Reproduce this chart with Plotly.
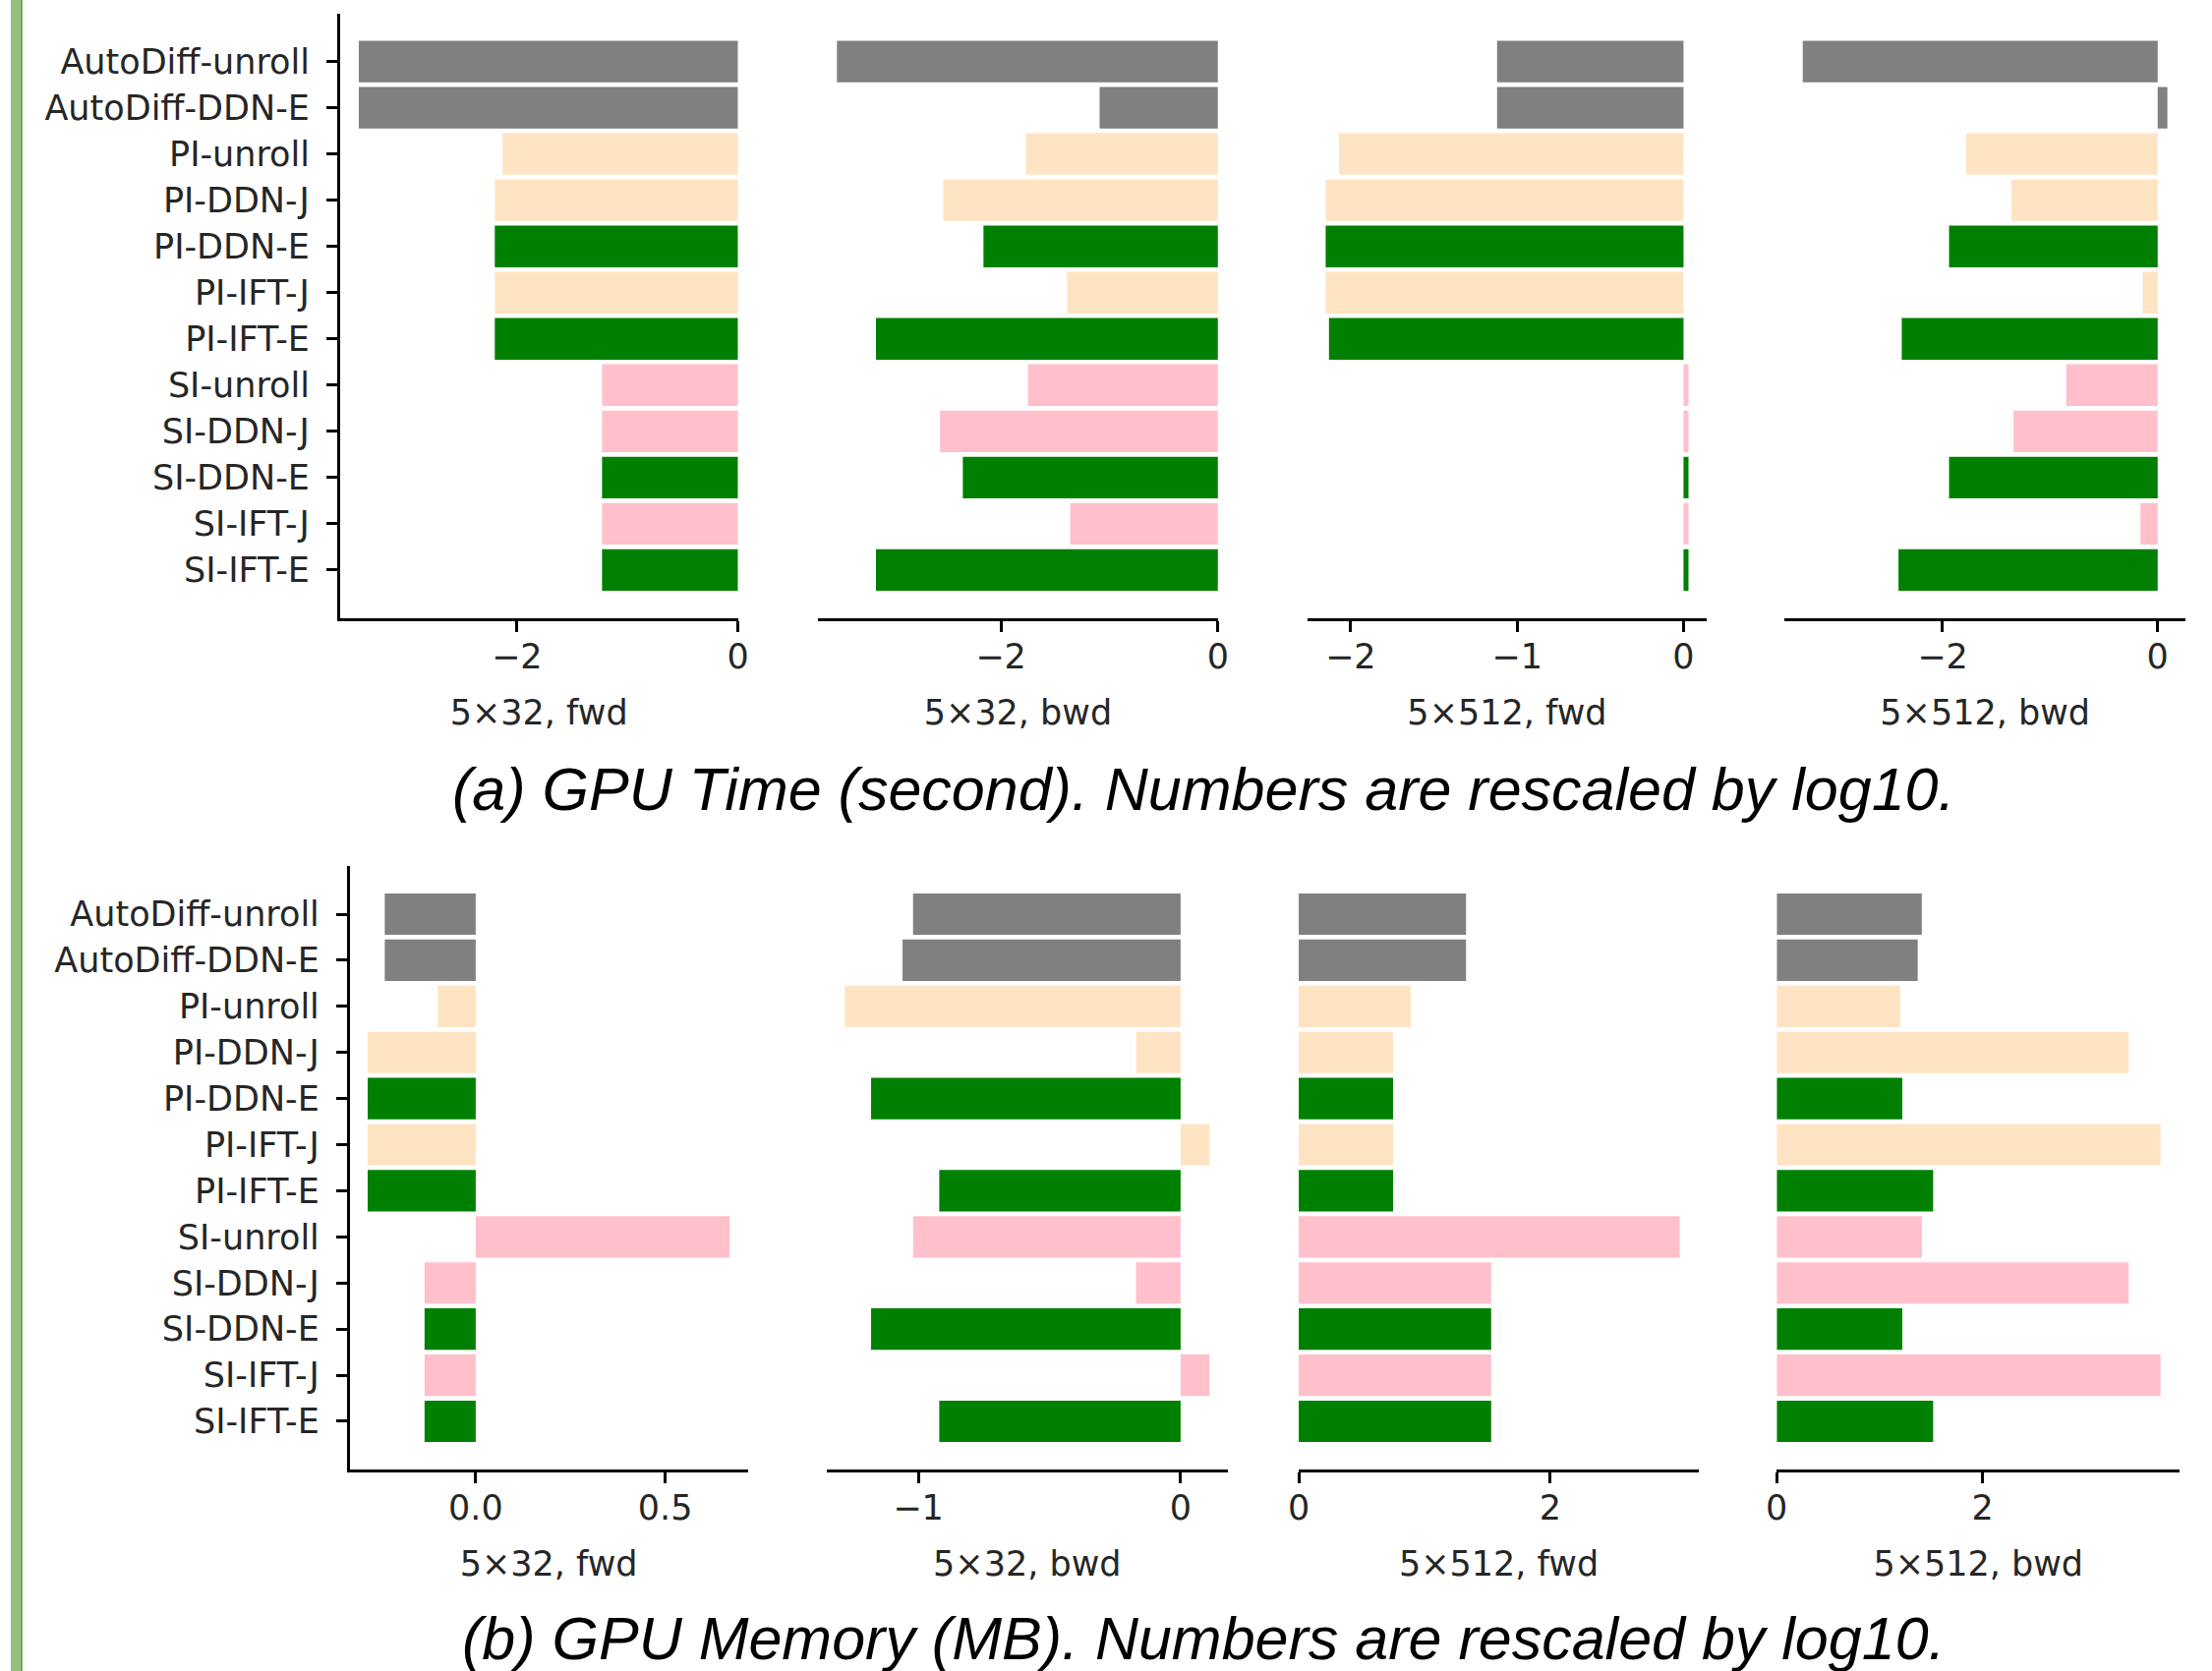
import plotly.graph_objects as go

W, H = 2250, 1700

methods = ["AutoDiff-unroll", "AutoDiff-DDN-E", "PI-unroll", "PI-DDN-J", "PI-DDN-E",
           "PI-IFT-J", "PI-IFT-E", "SI-unroll", "SI-DDN-J", "SI-DDN-E", "SI-IFT-J", "SI-IFT-E"]
groups = ["autodiff", "autodiff", "pi", "pi", "explicit", "pi", "explicit",
          "si", "si", "explicit", "si", "explicit"]
group_colors = {"autodiff": "#808080", "pi": "#FFE4C4", "si": "#FFC0CB", "explicit": "#008000"}

settings = ["5×32, fwd", "5×32, bwd", "5×512, fwd", "5×512, bwd"]

# (a) GPU time, log10 seconds
time_5x32_fwd = [-3.43, -3.43, -2.13, -2.20, -2.20, -2.20, -2.20, -1.23, -1.23, -1.23, -1.23, -1.23]
time_5x32_bwd = [-3.51, -1.09, -1.77, -2.53, -2.16, -1.39, -3.15, -1.75, -2.56, -2.35, -1.36, -3.15]
time_5x512_fwd = [-1.12, -1.12, -2.07, -2.15, -2.15, -2.15, -2.13, 0.03, 0.03, 0.03, 0.03, 0.03]
time_5x512_bwd = [-3.30, 0.09, -1.78, -1.36, -1.94, -0.14, -2.38, -0.85, -1.34, -1.94, -0.16, -2.41]

# (b) GPU memory, log10 MB
mem_5x32_fwd = [-0.24, -0.24, -0.10, -0.285, -0.285, -0.285, -0.285, 0.67, -0.135, -0.135, -0.135, -0.135]
mem_5x32_bwd = [-1.02, -1.06, -1.28, -0.17, -1.18, 0.11, -0.92, -1.02, -0.17, -1.18, 0.11, -0.92]
mem_5x512_fwd = [1.33, 1.33, 0.89, 0.75, 0.75, 0.75, 0.75, 3.03, 1.53, 1.53, 1.53, 1.53]
mem_5x512_bwd = [1.41, 1.37, 1.20, 3.42, 1.22, 3.73, 1.52, 1.41, 3.42, 1.22, 3.73, 1.52]

captions = ["(a) GPU Time (second). Numbers are rescaled by log10.",
            "(b) GPU Memory (MB). Numbers are rescaled by log10."]

panels = [
    [time_5x32_fwd, time_5x32_bwd, time_5x512_fwd, time_5x512_bwd],
    [mem_5x32_fwd, mem_5x32_bwd, mem_5x512_fwd, mem_5x512_bwd],
]

# layout (pixels)
x_domains_px = [
    [(338, 747), (829, 1240), (1332, 1742), (1822, 2234)],
    [(348, 757), (838, 1250), (1323, 1734), (1814, 2228)],
]
y_domains_px = [(13.5, 629), (881, 1495)]  # top, bottom
dticks = [[2, 2, 1, 2], [0.5, 1, 2, 2]]
tickformats = [["", "", "", ""], [".1f", "", "", ""]]
caption_y_px = [803, 1667]

TXT = "#262626"
TICKFONT = dict(family="DejaVu Sans", size=35, color=TXT)
bar_colors = [group_colors[g] for g in groups]
margin_cat = 1.045

fig = go.Figure()
layout = dict(
    width=W, height=H,
    margin=dict(l=0, r=0, t=0, b=0),
    paper_bgcolor="white", plot_bgcolor="white",
    showlegend=False, bargap=0.1,
)

k = 0
for p, series_list in enumerate(panels):
    top, bot = y_domains_px[p]
    ydom = [1 - bot / H, 1 - top / H]
    for j, vals in enumerate(series_list):
        k += 1
        sfx = "" if k == 1 else str(k)
        fig.add_trace(go.Bar(
            x=vals, y=methods, orientation="h",
            marker=dict(color=bar_colors, line=dict(width=0)),
            xaxis="x" + sfx, yaxis="y" + sfx,
            hoverinfo="x+y",
        ))
        lo = min(0, min(vals))
        hi = max(0, max(vals))
        span = hi - lo
        rlo = lo - 0.05 * span if lo < 0 else 0
        rhi = hi + 0.05 * span if hi > 0 else 0
        x0, x1 = x_domains_px[p][j]
        layout["xaxis" + sfx] = dict(
            domain=[x0 / W, x1 / W], anchor="y" + sfx,
            range=[rlo, rhi], tick0=0, dtick=dticks[p][j],
            tickformat=tickformats[p][j],
            showline=True, linecolor="black", linewidth=2.5,
            ticks="outside", ticklen=11, tickwidth=2.5, tickcolor="black",
            showgrid=False, zeroline=False,
            tickfont=TICKFONT, ticklabelstandoff=-5,
            title=dict(text=settings[j], font=TICKFONT, standoff=26),
        )
        ydict = dict(
            domain=ydom, anchor="x" + sfx,
            type="category", categoryorder="array", categoryarray=methods,
            range=[len(methods) - 1 + margin_cat, -margin_cat],
            showgrid=False, zeroline=False,
        )
        if j == 0:
            ydict.update(
                showline=True, linecolor="black", linewidth=2.5,
                ticks="outside", ticklen=11, tickwidth=2.5, tickcolor="black",
                tickfont=TICKFONT, ticklabelstandoff=10, showticklabels=True,
            )
        else:
            ydict.update(showline=False, ticks="", showticklabels=False)
        layout["yaxis" + sfx] = ydict

annotations = []
for p, cap in enumerate(captions):
    annotations.append(dict(
        text=cap, xref="paper", yref="paper",
        x=1225 / W, y=1 - caption_y_px[p] / H,
        xanchor="center", yanchor="middle", showarrow=False,
        font=dict(family="Liberation Sans", size=61, color="black", style="italic"),
    ))
layout["annotations"] = annotations

# thin green frame strip on the left edge of the picture
layout["shapes"] = [
    dict(type="rect", xref="paper", yref="paper", x0=0, x1=10 / W, y0=0, y1=1,
         fillcolor="#97C07F", line=dict(width=0), layer="above"),
    dict(type="rect", xref="paper", yref="paper", x0=10 / W, x1=12 / W, y0=0, y1=1,
         fillcolor="#6E9E5A", line=dict(width=0), layer="above"),
]

fig.update_layout(**layout)
fig.write_html("out.html",
               config={"displayModeBar": False},
               post_script="document.body.style.margin='0';document.body.style.overflow='hidden';")
